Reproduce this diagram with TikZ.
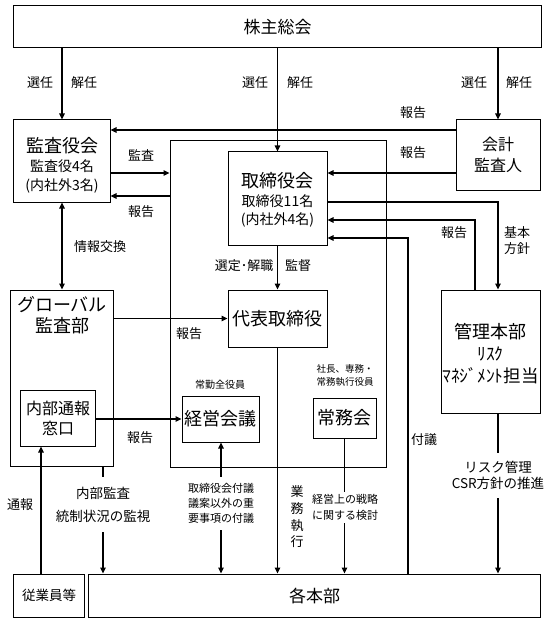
\documentclass[tikz,border=0pt]{standalone}
\usepackage{fontspec}
\setmainfont{Noto Sans CJK JP}
\usetikzlibrary{arrows.meta}
\newcommand\fsz[2]{\fontsize{#1bp}{#2bp}\selectfont}
\tikzset{
 box/.style={draw, line width=1bp, inner sep=0pt, align=center},
 arr/.style={line width=1.1bp, -{Triangle[length=6bp,width=5.5bp]}},
 darr/.style={line width=1.1bp, {Triangle[length=6bp,width=5.5bp]}-{Triangle[length=6bp,width=5.5bp]}},
 ln/.style={line width=1.1bp},
 lab/.style={inner sep=0pt, font=\fsz{13}{16}, align=center},
 small/.style={inner sep=0pt, font=\fsz{10}{13.5}, align=center},
}
\begin{document}
\begin{tikzpicture}[x=1bp,y=-1bp]
\useasboundingbox[fill=white] (0,0) rectangle (560,624);
% boxes
\node[box, minimum width=527bp, minimum height=42bp, font=\fsz{17}{20}] (sh) at (277.5,27) {株主総会};
\node[box, minimum width=96bp, minimum height=82bp, font=\fsz{14}{19}] (kansa) at (62,161) {{\fsz{18}{20}\rule{0pt}{23bp}監査役会}\\監査役4名\\(内社外3名)};
\node[box, minimum width=84bp, minimum height=70bp, font=\fsz{16}{21}] (kaikei) at (498,155) {会計\\監査人};
\node[box, minimum width=216bp, minimum height=326bp] (outer) at (278,304) {};
\node[box, minimum width=99bp, minimum height=93bp, font=\fsz{14}{18.5}] (tori) at (277.5,198.5) {{\fsz{18}{20}\rule{0pt}{18bp}取締役会}\\取締役11名\\(内社外4名)};
\node[box, minimum width=99bp, minimum height=57bp, font=\fsz{18}{20}] (daihyo) at (277.5,318.5) {代表取締役};
\node[box, minimum width=102bp, minimum height=176bp] (global) at (62,378) {};
\node[inner sep=0pt, font=\fsz{18}{21}, align=center, anchor=north] (globalt) at ([yshift=-7bp]global.north) {グローバル\\監査部};
\node[box, minimum width=74bp, minimum height=56bp, font=\fsz{16}{20}] (naibu) at (58,418) {内部通報\\窓口};
\node[box, minimum width=77bp, minimum height=46bp, font=\fsz{18}{20}] (keiei) at (220.5,419) {経営会議};
\node[box, minimum width=63bp, minimum height=40bp, font=\fsz{18}{20}] (jomu) at (344.5,418) {常務会};
\node[box, minimum width=99bp, minimum height=123bp, font=\fsz{17.5}{22}] (kanri) at (490.5,351.5) {{\fsz{18}{22}\rule{0pt}{19bp}管理本部}\\ﾘｽｸ\\ﾏﾈｼﾞﾒﾝﾄ担当};
\node[box, minimum width=451bp, minimum height=43bp, font=\fsz{17}{20}] (kaku) at (314.5,595.5) {各本部};
\node[box, minimum width=70bp, minimum height=43bp, font=\fsz{13.5}{16}] (jugyo) at (49,595.5) {従業員等};
% texts that interrupt lines
\node[lab, minimum height=55bp, font=\fsz{13.5}{23}] (naikan) at (103,504.5) {内部監査\\統制状況の監視};
\node[lab, minimum height=53bp, font=\fsz{11}{15}] (fugi1) at (221,503.5) {取締役会付議\\議案以外の重\\要事項の付議};
\node[lab, minimum height=31bp, font=\fsz{11}{15.5}] (senryaku) at (345,507.5) {経営上の戦略\\に関する検討};
\node[lab, minimum height=45bp, font=\fsz{13.5}{16}] (risk) at (498,475.5) {リスク管理\\CSR方針の推進};
% connectors
\draw[arr] (kansa.north |- sh.south) -- (kansa.north);
\draw[arr] (tori.north |- sh.south) -- (tori.north);
\draw[arr] (kaikei.north |- sh.south) -- (kaikei.north);
\draw[arr] (kaikei.west |- 0,130) -- (kansa.east |- 0,130);
\draw[arr] (kaikei.west |- 0,173) -- (tori.east |- 0,173);
\draw[arr] (kansa.east |- 0,173) -- (outer.west |- 0,173);
\draw[arr] (outer.west |- 0,196) -- (kansa.east |- 0,196);
\draw[arr] (tori.east |- 0,202) -| (kanri.north -| kaikei.south);
\draw[arr] (kanri.north -| 475,0) |- (tori.east |- 0,220);
\draw[arr] (kaku.north -| 408,0) |- (tori.east |- 0,238);
\draw[darr] (kansa.south) -- (kansa.south |- global.north);
\draw[arr] (global.east |- daihyo.west) -- (daihyo.west);
\draw[arr] (tori.south) -- (daihyo.north);
\draw[arr] (naibu.east |- keiei.west) -- (keiei.west);
\draw[arr] (jugyo.north -| 41,0) -- (naibu.south -| 41,0);
\draw[ln] (global.south -| naikan.north) -- (naikan.north);
\draw[arr] (naikan.south) -- (naikan.south |- kaku.north);
\draw[arr] (fugi1.north) -- (fugi1.north |- keiei.south);
\draw[arr] (fugi1.south) -- (fugi1.south |- kaku.north);
\draw[arr] (daihyo.south) -- (daihyo.south |- kaku.north);
\draw[ln] (jomu.south) -- (jomu.south |- senryaku.north);
\draw[arr] (jomu.south |- senryaku.south) -- (jomu.south |- kaku.north);
\draw[ln] (kanri.south -| risk.north) -- (risk.north);
\draw[arr] (risk.south) -- (risk.south |- kaku.north);
% labels
\node[lab] (l1) at (40,83) {選任};
\node[lab] (l2) at (84,83) {解任};
\node[lab] (l3) at (255,83) {選任};
\node[lab] (l4) at (300,83) {解任};
\node[lab] (l5) at (474,83) {選任};
\node[lab] (l6) at (519,83) {解任};
\node[lab] (l7) at (413,113) {報告};
\node[lab] (l8) at (413,153) {報告};
\node[lab] (l9) at (141,155) {監査};
\node[lab] (l10) at (141,212) {報告};
\node[lab] (l11) at (100,247) {情報交換};
\node[lab] (l12) at (244,266) {選定･解職};
\node[lab] (l13) at (298,266) {監督};
\node[lab] (l14) at (454,233) {報告};
\node[lab, font=\fsz{13}{16}] (l15) at (517,241) {基本\\方針};
\node[lab] (l16) at (189,334) {報告};
\node[lab] (l17) at (140,438) {報告};
\node[small] (l18) at (220,385) {常勤全役員};
\node[small, font=\fsz{9.5}{13.5}] (l19) at (345,375.5) {社長、専務・\\常務執行役員};
\node[lab] (l20) at (424,440) {付議};
\node[lab] (l21) at (20,505) {通報};
\node[lab, font=\fsz{13}{16.7}] (l22) at (297,517) {業\\務\\執\\行};
\end{tikzpicture}
\end{document}
